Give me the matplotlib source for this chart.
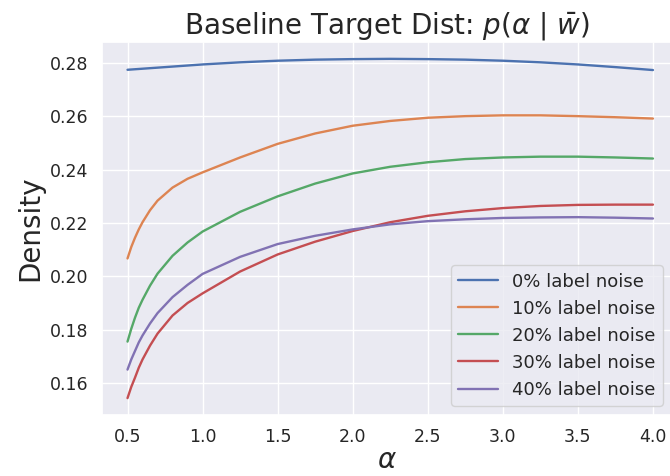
import matplotlib
matplotlib.use("Agg")
import matplotlib.pyplot as plt
import seaborn as sns

sns.set_theme(style="darkgrid")
plt.rcParams["font.family"] = ["DejaVu Sans"]

# alpha grid and density curves per label-noise level
alpha = [0.5, 0.525, 0.55, 0.575, 0.6, 0.65, 0.7, 0.8, 0.9, 1.0, 1.25, 1.5,
         1.75, 2.0, 2.25, 2.5, 2.75, 3.0, 3.25, 3.5, 3.75, 4.0]

noise_0 = [0.2775, 0.2776, 0.2777, 0.2778, 0.2779, 0.2781, 0.2783, 0.2787,
           0.2791, 0.2795, 0.2803, 0.2809, 0.2813, 0.2815, 0.2816, 0.2815,
           0.2813, 0.2809, 0.2803, 0.2795, 0.2785, 0.2774]
noise_10 = [0.2067, 0.2110, 0.2145, 0.2176, 0.2203, 0.2248, 0.2284, 0.2333,
            0.2366, 0.2390, 0.2446, 0.2497, 0.2536, 0.2565, 0.2583, 0.2595,
            0.2601, 0.2604, 0.2604, 0.2601, 0.2597, 0.2592]
noise_20 = [0.1755, 0.1803, 0.1845, 0.1882, 0.1912, 0.1965, 0.2010, 0.2077,
            0.2127, 0.2168, 0.2242, 0.2300, 0.2348, 0.2386, 0.2411, 0.2428,
            0.2440, 0.2446, 0.2449, 0.2449, 0.2446, 0.2442]
noise_30 = [0.1543, 0.1585, 0.1620, 0.1657, 0.1688, 0.1740, 0.1785, 0.1853,
            0.1900, 0.1936, 0.2018, 0.2082, 0.2130, 0.2170, 0.2203, 0.2227,
            0.2244, 0.2256, 0.2264, 0.2268, 0.2269, 0.2269]
noise_40 = [0.1650, 0.1688, 0.1720, 0.1752, 0.1778, 0.1823, 0.1862, 0.1922,
            0.1968, 0.2009, 0.2073, 0.2121, 0.2152, 0.2176, 0.2195, 0.2207,
            0.2214, 0.2219, 0.2221, 0.2222, 0.2220, 0.2217]

labels = ["0% label noise", "10% label noise", "20% label noise",
          "30% label noise", "40% label noise"]
series = [noise_0, noise_10, noise_20, noise_30, noise_40]

fig = plt.figure(figsize=(6.7, 4.76), dpi=100)
# the axes run up to (just past) the right edge of the canvas
ax = fig.add_axes([0.152, 0.128, 0.851, 0.784])

for ys, lab in zip(series, labels):
    ax.plot(alpha, ys, linewidth=1.7, label=lab)

ax.set_xlim(0.329, 4.127)
ax.set_xticks([0.5, 1.0, 1.5, 2.0, 2.5, 3.0, 3.5, 4.0])
ax.tick_params(labelsize=12.5)
ax.set_title(r"Baseline Target Dist: $p(\alpha\ |\ \bar{w})$", fontsize=20)
ax.set_ylabel("Density", fontsize=20)
ax.set_xlabel(r"$\alpha$", fontsize=20, labelpad=0)
ax.legend(loc="lower right", fontsize=13, labelspacing=0.5,
          handlelength=2.2)

fig.savefig("out.png", dpi=100)
